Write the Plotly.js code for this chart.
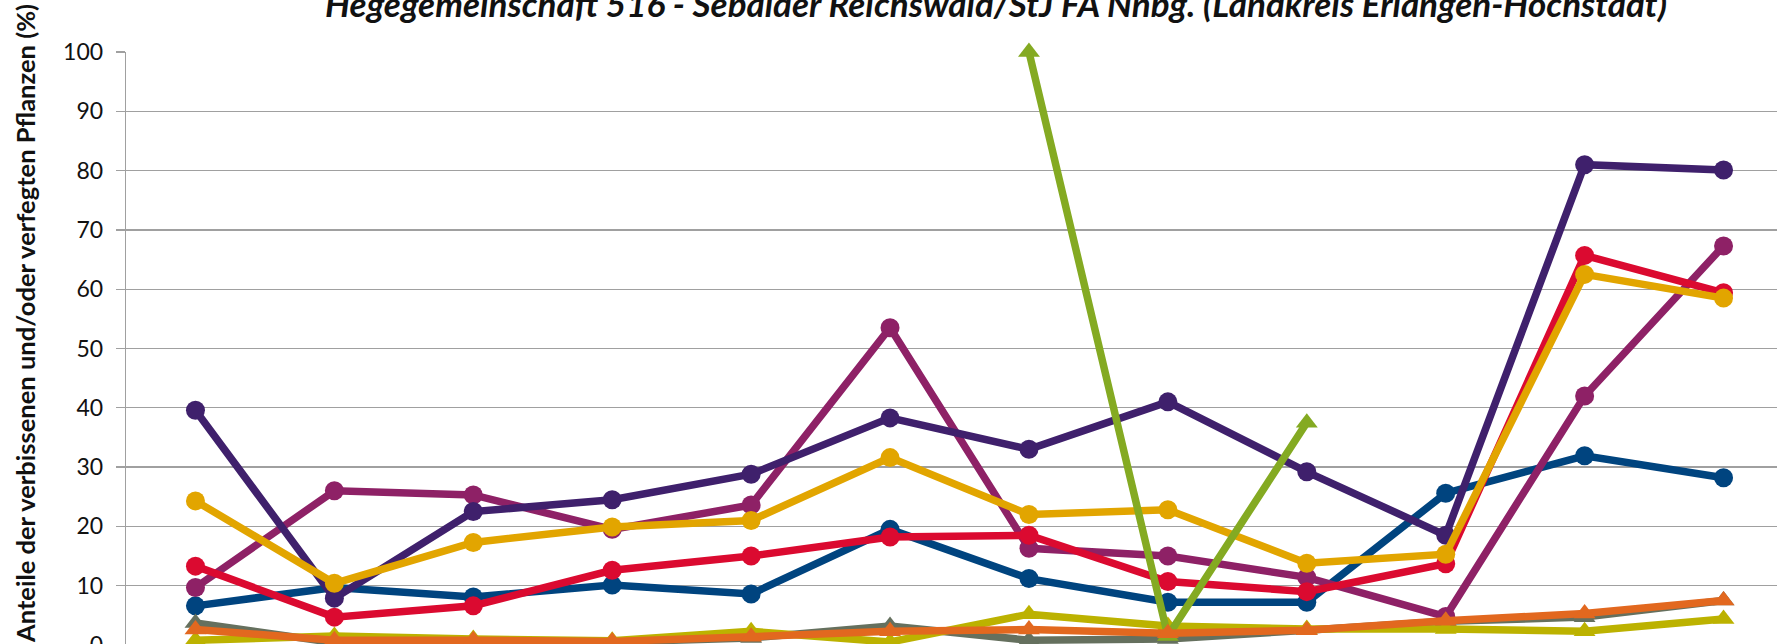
<!DOCTYPE html>
<html>
<head>
<meta charset="utf-8">
<script src="https://cdn.plot.ly/plotly-3.0.1.min.js"></script>
<style>
  html, body { margin: 0; padding: 0; overflow: hidden; background: #ffffff; width: 1777px; height: 644px; }
  #chart { position: absolute; left: 0; top: -40px; width: 1850px; height: 745px; }
</style>
</head>
<body>
<div id="chart"></div>
<script>
// Erhebungsjahre (Kategorien; Achsenbeschriftung liegt im Original unterhalb des Ausschnitts)
const categories = ["1991", "1994", "1997", "2000", "2003", "2006", "2009", "2012", "2015", "2018", "2021", "2024"];

// Kreis-Serien
const seriesBlue    = [6.6, 9.7, 8.1, 10.1, 8.6, 19.5, 11.2, 7.2, 7.2, 25.6, 31.9, 28.2];
const seriesMagenta = [9.7, 26.0, 25.3, 19.5, 23.6, 53.5, 16.3, 15.0, 11.4, 4.8, 42.0, 67.3];
const seriesRed     = [13.3, 4.7, 6.6, 12.6, 15.0, 18.2, 18.5, 10.7, 9.0, 13.7, 65.7, 59.4];
const seriesPurple  = [39.6, 7.9, 22.5, 24.5, 28.8, 38.3, 33.0, 41.0, 29.2, 18.5, 81.0, 80.1];
const seriesGold    = [24.3, 10.4, 17.3, 19.9, 21.0, 31.6, 22.0, 22.8, 13.8, 15.3, 62.5, 58.5];

// Dreieck-Serien
const seriesGray    = [3.7, 0.4, 0.5, 0.5, 1.2, 3.2, 0.8, 1.0, 2.5, 4.0, 4.7, 7.5];
const seriesYellow  = [0.8, 1.5, 1.0, 0.7, 2.3, 0.5, 5.2, 3.2, 2.7, 2.7, 2.3, 4.4];
const seriesGreen   = [null, null, null, null, null, null, 100, 1.5, 37.5, null, null, null];
const seriesOrange  = [2.6, 0.8, 0.8, 0.6, 1.4, 2.3, 2.6, 2.0, 2.5, 4.1, 5.3, 7.5];

const yTicks = [0, 10, 20, 30, 40, 50, 60, 70, 80, 90, 100];

const titleText = "Hegegemeinschaft 516 - Sebalder Reichswald/StJ FA Nnbg. (Landkreis Erlangen-Höchstadt)";
const yTitleText = "Anteile der verbissenen und/oder verfegten Pflanzen (%)";

const FONT = "Lato, 'Open Sans', 'DejaVu Sans', sans-serif";
const LW = 7.5;

function circleTrace(name, y, color) {
  return {
    type: "scatter", mode: "lines+markers", name: name,
    x: categories, y: y,
    line: { color: color, width: LW },
    marker: { symbol: "circle", size: 19, color: color },
    cliponaxis: false, connectgaps: false
  };
}
function triTrace(name, y, color) {
  return {
    type: "scatter", mode: "lines+markers", name: name,
    x: categories, y: y,
    line: { color: color, width: LW },
    marker: { symbol: "triangle-up", size: 19, color: color },
    cliponaxis: false, connectgaps: false
  };
}

const traces = [
  circleTrace("Fichte", seriesBlue, "#00447f"),
  circleTrace("Buche", seriesMagenta, "#8e2166"),
  circleTrace("Eiche", seriesRed, "#db0a30"),
  circleTrace("Tanne", seriesPurple, "#3f206c"),
  circleTrace("Edellaubholz", seriesGold, "#e2a500"),
  triTrace("Fegeschäden Nadelholz", seriesGray, "#65705e"),
  triTrace("Fegeschäden Laubholz", seriesYellow, "#bcb200"),
  triTrace("Fegeschäden Tanne", seriesGreen, "#84aa22"),
  triTrace("Fegeschäden gesamt", seriesOrange, "#e2681f")
];

const W = 1850, H = 745;
const mL = 126, plotW = 12 * 138.9, mR = W - mL - plotW;
const mT = 92, plotH = 593, mB = H - mT - plotH;

const layout = {
  width: W, height: H,
  margin: { l: mL, r: mR, t: mT, b: mB, pad: 0 },
  paper_bgcolor: "#ffffff", plot_bgcolor: "#ffffff",
  showlegend: false,
  font: { family: FONT, color: "#1a1a1a" },
  title: {
    text: titleText,
    font: { family: FONT, size: 35, weight: "bold", style: "italic", color: "#111111" },
    xref: "container", yref: "container",
    x: 996 / W, y: 1 - 45 / H, xanchor: "center", yanchor: "middle"
  },
  xaxis: {
    type: "category", range: [-0.5, 11.5],
    showgrid: false, zeroline: false,
    showline: true, linecolor: "#a0a0a0", linewidth: 1.3,
    ticks: "", showticklabels: true,
    tickfont: { family: FONT, size: 22, color: "#111111" }
  },
  yaxis: {
    range: [0, 100], tickvals: yTicks, ticktext: yTicks.map(String),
    showgrid: true, gridcolor: "#a0a0a0", gridwidth: 1.3,
    zeroline: false,
    showline: true, linecolor: "#a0a0a0", linewidth: 1.3,
    ticks: "outside", ticklen: 9, tickcolor: "#a0a0a0", tickwidth: 1.3,
    tickfont: { family: FONT, size: 23, color: "#111111" },
    ticklabelstandoff: 8
  },
  annotations: [{
    text: "<b>" + yTitleText + "</b>",
    xref: "paper", yref: "paper",
    x: (25 - mL) / plotW, y: (mT + plotH - (323 + 40)) / plotH,
    xanchor: "center", yanchor: "middle",
    textangle: -90, showarrow: false,
    font: { family: FONT, size: 25.5, color: "#111111" }
  }]
};

Plotly.newPlot("chart", traces, layout, { displayModeBar: false, staticPlot: true });
</script>
</body>
</html>
